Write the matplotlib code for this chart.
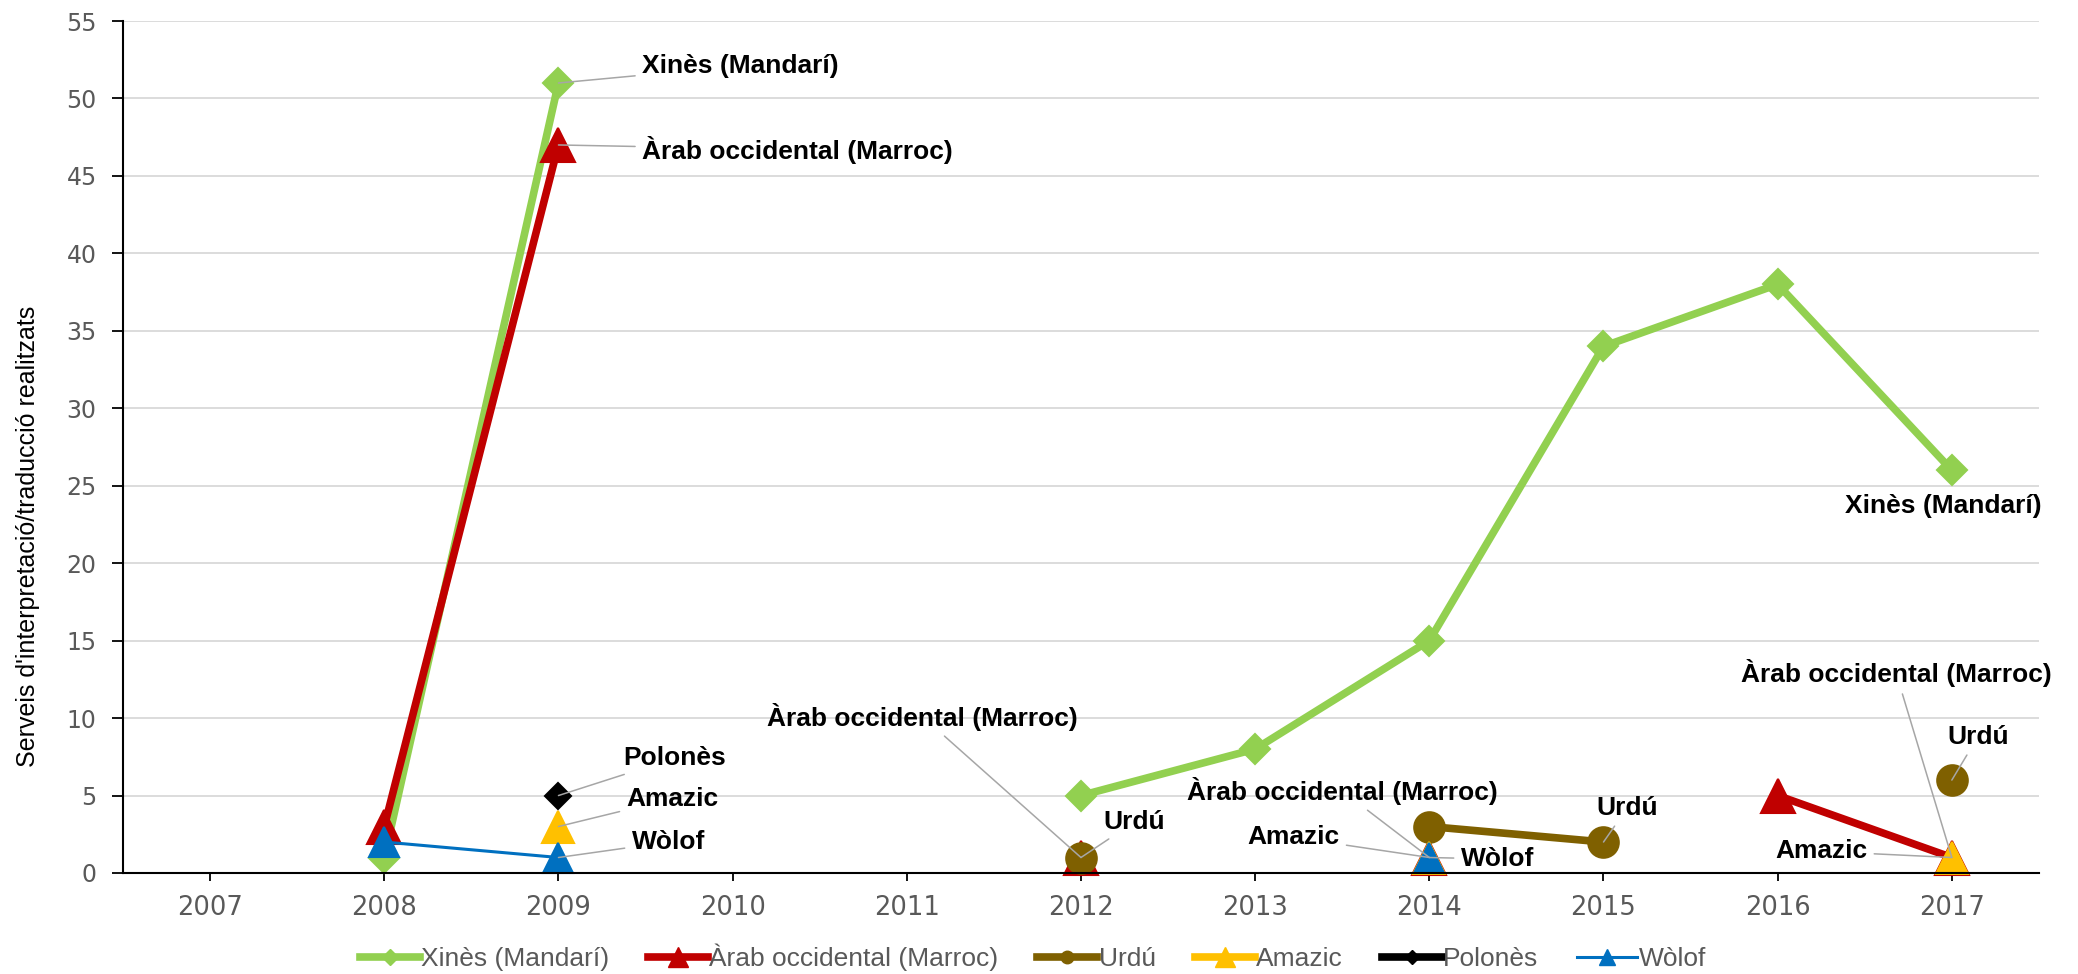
import numpy as np
import matplotlib
matplotlib.use('Agg')
import matplotlib.pyplot as plt
from matplotlib.lines import Line2D

plt.rcParams['font.family'] = ['Liberation Sans', 'DejaVu Sans']

nan = np.nan
years = ['2007', '2008', '2009', '2010', '2011', '2012', '2013', '2014', '2015', '2016', '2017']

xines = [nan, 1, 51, nan, nan, 5, 8, 15, 34, 38, 26]
arab = [nan, 3, 47, nan, nan, 1, nan, 1, nan, 5, 1]
urdu = [nan, nan, nan, nan, nan, 1, nan, 3, 2, nan, 6]
amazic = [nan, nan, 3, nan, nan, nan, nan, 1, nan, nan, 1]
polones = [nan, nan, 5, nan, nan, nan, nan, nan, nan, nan, nan]
wolof = [nan, 2, 1, nan, nan, nan, nan, 1, nan, nan, nan]

names = ['Xinès (Mandarí)', 'Àrab occidental (Marroc)', 'Urdú', 'Amazic', 'Polonès', 'Wòlof']
values = [xines, arab, urdu, amazic, polones, wolof]
colors = ['#92D050', '#C00000', '#7F6000', '#FFC000', '#000000', '#0070C0']
markers = ['D', '^', 'o', '^', 'D', '^']
msizes = [15, 25, 22, 23, 13, 21]
legend_ms = [8, 14, 9, 14, 7, 11]
lwidths = [5.5, 5.5, 5.5, 5.5, 5.5, 2.2]

fig = plt.figure(figsize=(20.78, 9.74), dpi=100)
ax = fig.add_axes([0.0592, 0.1037, 0.922, 0.8747])

x = np.arange(len(years))
for name, vals, c, m, ms, lw in zip(names, values, colors, markers, msizes, lwidths):
    ax.plot(x, vals, color=c, lw=lw, marker=m, ms=ms, markeredgecolor=c,
            markeredgewidth=1.5, clip_on=False, label=name)

ax.set_xlim(-0.5, len(years) - 0.5)
ax.set_ylim(0, 55)
ax.set_yticks(np.arange(0, 56, 5))
ax.set_xticks(x)
ax.set_xticklabels(years)
ax.tick_params(axis='both', colors='#595959', width=1.3)
ax.tick_params(axis='x', pad=10, length=6, color='black', labelsize=18.5)
ax.tick_params(axis='y', pad=11, length=8, color='black', labelsize=17)
for lab in ax.get_xticklabels() + ax.get_yticklabels():
    lab.set_family('DejaVu Sans')
ax.yaxis.grid(True, color='#D9D9D9', lw=1.3)
ax.set_axisbelow(True)
for s in ['top', 'right']:
    ax.spines[s].set_visible(False)
for s in ['left', 'bottom']:
    ax.spines[s].set_linewidth(1.5)

fig.text(0.0135, 0.449, "Serveis d'interpretació/traducció realitzats", rotation=90,
         ha='center', va='center', fontsize=18, color='black')

# data labels: (series index, year index, text position, ha, leader line)
labels = [
    (0, 2, (2.48, 52.1), 'left', True),
    (1, 2, (2.48, 46.7), 'left', True),
    (4, 2, (2.37, 7.4), 'left', True),
    (3, 2, (2.39, 4.8), 'left', True),
    (5, 2, (2.42, 2.0), 'left', True),
    (1, 5, (4.09, 10.1), 'center', True),
    (2, 5, (5.13, 3.3), 'left', True),
    (1, 7, (6.50, 5.3), 'center', True),
    (3, 7, (6.22, 2.3), 'center', True),
    (5, 7, (7.18, 0.9), 'left', True),
    (2, 8, (7.96, 4.2), 'left', True),
    (0, 10, (9.95, 23.7), 'center', False),
    (1, 10, (9.68, 12.9), 'center', True),
    (2, 10, (10.15, 8.8), 'center', True),
    (3, 10, (9.25, 1.4), 'center', True),
]
for si, xi, txy, ha, leader in labels:
    arrow = dict(arrowstyle='-', color='#A6A6A6', lw=1.1, shrinkA=3, shrinkB=0) if leader else None
    ax.annotate(names[si], xy=(xi, values[si][xi]), xytext=txy, textcoords='data',
                ha=ha, va='center', fontsize=19, fontweight='bold', color='black',
                arrowprops=arrow, annotation_clip=False)

handles = [Line2D([0], [0], color=c, lw=lw, marker=m, ms=ms, markeredgecolor=c)
           for c, lw, m, ms in zip(colors, lwidths, markers, legend_ms)]
fig.legend(handles, names, loc='center', bbox_to_anchor=(0.497, 0.017), ncol=6, frameon=False,
           fontsize=19, handlelength=2.27, handletextpad=0.05, columnspacing=1.48,
           labelcolor='#595959')

fig.savefig('out.png', dpi=100)
